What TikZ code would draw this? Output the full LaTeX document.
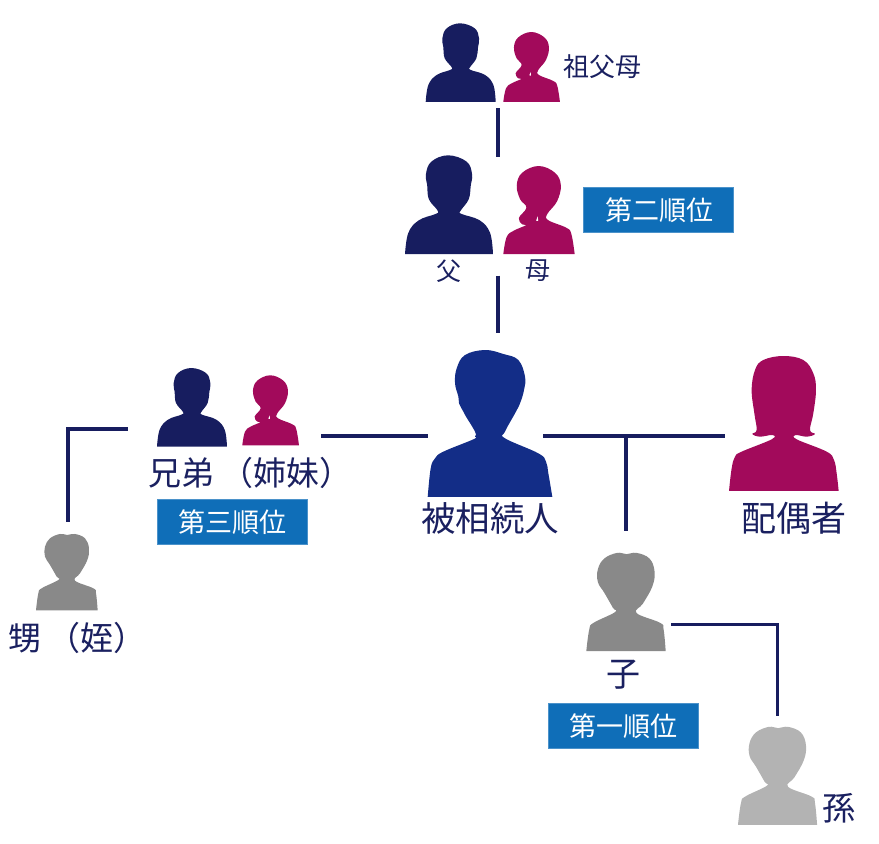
\documentclass[tikz,border=0pt]{standalone}
\usepackage{fontspec}
\setmainfont{Noto Sans CJK JP}
\definecolor{navy}{HTML}{171D5F}
\definecolor{plum}{HTML}{A20A5B}
\definecolor{royal}{HTML}{132D87}
\definecolor{rankblue}{HTML}{0F6EB8}
\definecolor{inkblue}{HTML}{1A2060}
\definecolor{midgrey}{HTML}{898989}
\definecolor{lightgrey}{HTML}{B3B3B3}
\tikzset{
  shapeline/.style={smooth,tension=.65},
  link/.style={draw=navy,line width=3.2pt,line cap=butt},
  linkbent/.style={draw=navy,line width=3.6pt,line cap=butt,miter limit=10},
  linkthick/.style={draw=navy,line width=4pt,line cap=butt},
  rankbox/.style={fill=rankblue,draw=rankblue!75!white,line width=.5pt,text=white,minimum width=150pt,minimum height=45pt,inner sep=0pt,font=\fontsize{27}{28}\selectfont},
  lbl/.style={text=inkblue,inner sep=0pt},
  pics/mansil/.style={code={
    \fill[#1,shift={(-77,-40)}] plot[shapeline] coordinates {(77,276) (85,225) (110,195) (150,180) (155,172) (134,145) (130,112) (127,85) (140,55) (180,40) (224,55) (237,85) (234,112) (229,145) (210,172) (212,180) (255,195) (280,225) (287,276)} -- cycle;
  }},
  pics/womansil/.style={code={
    \fill[#1,shift={(-310,-66)}] plot[shapeline] coordinates {(310,276) (318,235) (335,220) (364,207) (355,205) (347,190) (365,165) (350,145) (342,112) (355,82) (394,66) (433,82) (447,112) (438,150) (415,180) (417,195) (460,213) (472,228) (480,276)} -- cycle;
    \fill[white,shift={(-310,-66)}] (388,196) -- (392,186) -- (393,197) -- cycle;
  }},
  pics/mainsil/.style={code={
    \fill[#1,shift={(-53,-30)}] plot[shapeline] coordinates {(53,471) (62,385) (75,355) (100,335) (190,298) (195,290) (195,275) (168,230) (160,215) (147,190) (145,170) (135,130) (140,85) (165,45) (225,30) (280,42) (325,60) (345,110) (342,150) (330,190) (315,220) (285,275) (285,295) (385,340) (408,365) (415,400) (427,471)} -- cycle;
  }},
  pics/spousesil/.style={code={
    \fill[#1,shift={(-957,-48)}] plot[shapeline] coordinates {(957,453) (965,385) (975,350) (995,335) (1085,298) (1087,285) (1050,290) (1027,282) (1040,270) (1033,220) (1025,150) (1035,90) (1060,60) (1120,48) (1180,60) (1210,100) (1218,150) (1210,220) (1200,270) (1215,282) (1190,290) (1157,285) (1160,298) (1250,335) (1272,360) (1280,400) (1286,453)} -- cycle;
  }},
  pics/kinsil/.style={code={
    \fill[#1,shift={(-108,-520)}] plot[shapeline] coordinates {(108,751) (115,700) (125,685) (175,660) (170,650) (150,615) (135,590) (135,560) (150,535) (180,522) (202,525) (225,522) (255,535) (267,565) (262,600) (240,640) (225,662) (280,685) (288,700) (293,751)} -- cycle;
  }},
}
\newcommand{\person}[5]{\begin{scope}[shift={(#2,#3)},x=#4pt,y=-#4pt]\pic{#1={#5}};\end{scope}}
\newcommand{\fs}[1]{\fontsize{#1}{#1}\selectfont}
\begin{document}
\begin{tikzpicture}[x=1pt,y=-1pt]
\useasboundingbox (0,0) rectangle (879,844);
% silhouettes
\person{mansil}{425.7}{23.3}{.3333}{navy}
\person{womansil}{503.3}{32}{.3333}{plum}
\person{mansil}{405}{155.3}{.419}{navy}
\person{womansil}{503.3}{166}{.42}{plum}
\person{mansil}{157}{368}{.3333}{navy}
\person{womansil}{242.3}{375.3}{.3333}{plum}
\person{mainsil}{427.7}{350}{.3333}{royal}
\person{spousesil}{729}{356}{.3333}{plum}
\person{kinsil}{36}{533.3}{.3333}{midgrey}
\person{kinsil}{586.3}{552}{.4292}{midgrey}
\person{kinsil}{738}{726}{.4275}{lightgrey}
% labels
\node[lbl,font=\fs{26}] (grand) at (602,67) {祖父母};
\node[lbl,font=\fs{25}] (father) at (449,271) {父};
\node[lbl,font=\fs{25}] (mother) at (538,271) {母};
\node[lbl,font=\fs{34.5}] (deceased) at (490,518) {被相続人};
\node[lbl,font=\fs{35}] (spouse) at (794,518) {配偶者};
\node[lbl,font=\fs{33}] (sibling) at (250.5,473) {兄弟\hspace{7pt}（姉妹）};
\node[lbl,font=\fs{33}] (nephew) at (78,638) {甥\hspace{6pt}（姪）};
\node[lbl,font=\fs{34}] (child) at (623,675) {子};
\node[lbl,font=\fs{33}] (grandchild) at (839,808) {孫};
% rank boxes
\node[rankbox] (rank2) at (658.5,210) {\hspace{1pt}第二順位};
\node[rankbox] (rank3) at (232,521.8) {\hspace{1pt}第三順位};
\node[rankbox] (rank1) at (623.3,725.8) {\hspace{1pt}第一順位};
% connector ends
\coordinate (a1) at (498,108);
\coordinate (a2) at (498,157);
\coordinate (b1) at (498,275.6);
\coordinate (b2) at (498,333);
\coordinate (c1) at (127.6,429);
\coordinate (c2) at (67.7,429);
\coordinate (c3) at (67.7,522);
\coordinate (d1) at (321,436);
\coordinate (d2) at (427.7,436);
\coordinate (e1) at (543,436);
\coordinate (e2) at (725,436);
\coordinate (f1) at (626,436);
\coordinate (f2) at (626,530.7);
\coordinate (g1) at (671,624.3);
\coordinate (g2) at (777.5,624.3);
\coordinate (g3) at (777.5,716);
% connectors
\draw[link] (a1) -- (a2);
\draw[link] (b1) -- (b2);
\draw[linkbent] (c1) -- (c2) -- (c3);
\draw[linkthick] (d1) -- (d2);
\draw[linkthick] (e1) -- (e2);
\draw[link] (f1) -- (f2);
\draw[linkbent] (g1) -- (g2) -- (g3);
\end{tikzpicture}
\end{document}
